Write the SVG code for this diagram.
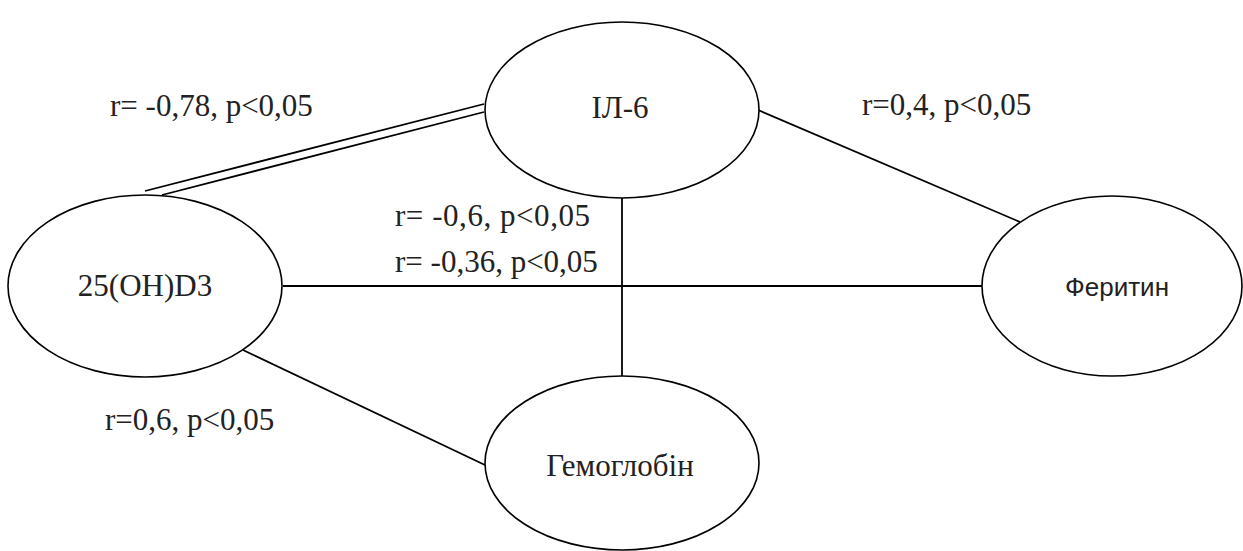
<svg xmlns="http://www.w3.org/2000/svg" width="1243" height="551" viewBox="0 0 1243 551">
<style>
.node{fill:#fff;stroke:#000;stroke-width:1.6}
.edge{stroke:#000;stroke-width:1.8;fill:none}
.serif{font-family:"Liberation Serif","Times New Roman",serif;font-size:31px;fill:#222}
.sans{font-family:"Liberation Sans",Arial,sans-serif;font-size:26px;fill:#222}
</style>
<rect width="1243" height="551" fill="#fff"/>
<g id="connectors">
<line class="edge" x1="484" y1="104" x2="145" y2="191"/>
<line class="edge" x1="484" y1="112" x2="162" y2="195"/>
<line class="edge" x1="758" y1="110" x2="1020" y2="222"/>
<line class="edge" x1="622" y1="198" x2="622" y2="376"/>
<line class="edge" x1="283" y1="286" x2="982" y2="286"/>
<line class="edge" x1="243" y1="350" x2="485" y2="465"/>
</g>
<g id="node-il6">
<ellipse class="node" cx="622" cy="110" rx="137" ry="88"/>
<text class="serif" x="620" y="118" text-anchor="middle">ІЛ-6</text>
</g>
<g id="node-d3">
<ellipse class="node" cx="145" cy="286" rx="137" ry="91"/>
<text class="serif" x="145" y="296" text-anchor="middle">25(OH)D3</text>
</g>
<g id="node-ferritin">
<ellipse class="node" cx="1112" cy="286" rx="130" ry="90"/>
<text class="sans" x="1117" y="296" text-anchor="middle">Феритин</text>
</g>
<g id="node-hb">
<ellipse class="node" cx="622" cy="463" rx="137" ry="87"/>
<text class="serif" x="620" y="476" text-anchor="middle">Гемоглобін</text>
</g>
<g id="labels">
<text class="serif" x="110" y="116">r= -0,78, p&lt;0,05</text>
<text class="serif" x="862" y="115">r=0,4, p&lt;0,05</text>
<text class="serif" x="395" y="226" textLength="195" lengthAdjust="spacing">r= -0,6, p&lt;0,05</text>
<text class="serif" x="395" y="272">r= -0,36, p&lt;0,05</text>
<text class="serif" x="105" y="430">r=0,6, p&lt;0,05</text>
</g>
</svg>
